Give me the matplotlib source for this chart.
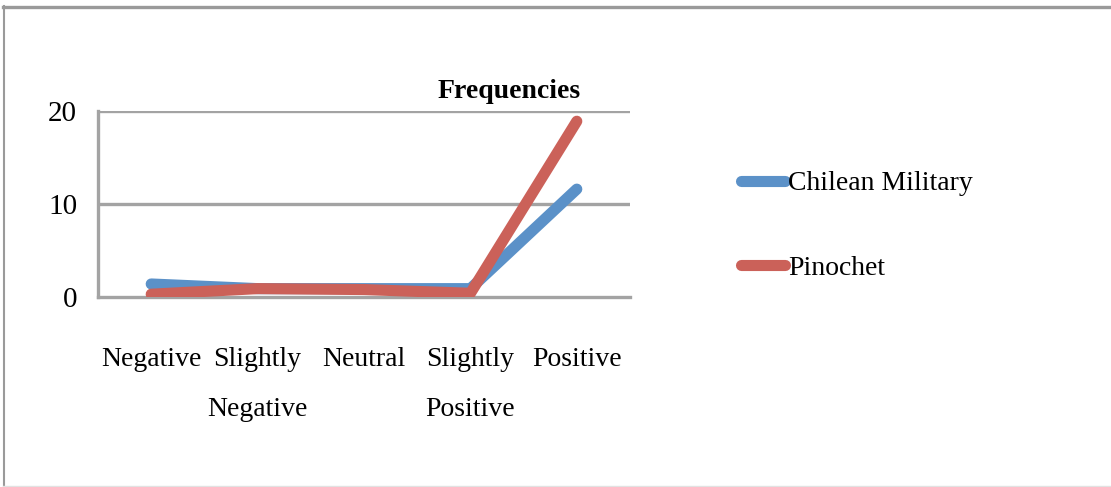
"""Frequency of sentiment ratings: Chilean Military vs Pinochet."""

import matplotlib

matplotlib.use("Agg")

import matplotlib.pyplot as plt
from matplotlib.lines import Line2D

# --- Data ---
CATEGORIES = ["Negative", "Slightly\nNegative", "Neutral", "Slightly\nPositive", "Positive"]
MILITARY = [1.4, 0.9, 0.9, 0.9, 11.6]
PINOCHET = [0.3, 0.9, 0.8, 0.4, 18.9]
Y_TICKS = [0, 10, 20]

# --- Style ---
BLUE = "#5B91C8"
RED = "#CB6159"
GRID = "#A3A3A3"
FONT = "Liberation Serif"
FS = 20
W, H = 1111, 487

plt.rcParams["font.family"] = FONT

fig = plt.figure(figsize=(W / 100, H / 100), dpi=100)
ax = fig.add_axes([98 / W, 1 - 297 / H, 532 / W, 186 / H])

x = range(len(CATEGORIES))
line_kw = dict(lw=8, solid_capstyle="round", solid_joinstyle="round")
ax.plot(x, MILITARY, color=BLUE, label="Chilean Military", zorder=3, **line_kw)
ax.plot(x, PINOCHET, color=RED, label="Pinochet", zorder=4, **line_kw)

ax.set_xlim(-0.5, len(CATEGORIES) - 0.5)
ax.set_ylim(0, 20)
ax.set_yticks(Y_TICKS)
ax.set_yticklabels([str(t) for t in Y_TICKS], fontsize=FS + 1)
ax.set_xticks(list(x))
ax.set_xticklabels(CATEGORIES, fontsize=FS, linespacing=2.3, va="top")
ax.tick_params(axis="both", length=0)
ax.tick_params(axis="y", pad=15)
ax.tick_params(axis="x", pad=36)

for t in Y_TICKS[1:]:
    ax.axhline(t, color=GRID, lw=2.4, zorder=1)
for side in ("top", "right"):
    ax.spines[side].set_visible(False)
for side in ("left", "bottom"):
    ax.spines[side].set_color(GRID)
    ax.spines[side].set_linewidth(2.4)
ax.spines["bottom"].set_zorder(2)

fig.text(509 / W, 1 - 98 / H, "Frequencies", ha="center", va="baseline",
         fontsize=FS, fontweight="bold")

leg = ax.legend(loc="center left", bbox_to_anchor=(741 / W, 1 - 226 / H),
                bbox_transform=fig.transFigure, frameon=False, fontsize=FS,
                handlelength=1.57, handletextpad=0.12, labelspacing=2.13,
                borderpad=0, borderaxespad=0)

# outer chart frame
fig.add_artist(Line2D([3 / W, 1], [1 - 7 / H] * 2, transform=fig.transFigure,
                      color="#9A9A9A", lw=2.4))
fig.add_artist(Line2D([3.5 / W] * 2, [0, 1 - 6 / H], transform=fig.transFigure,
                      color="#9A9A9A", lw=1.5))
fig.add_artist(Line2D([3 / W, 1], [1.5 / H] * 2, transform=fig.transFigure,
                      color="#E2E2E2", lw=1))

fig.savefig("out.png", dpi=100)
